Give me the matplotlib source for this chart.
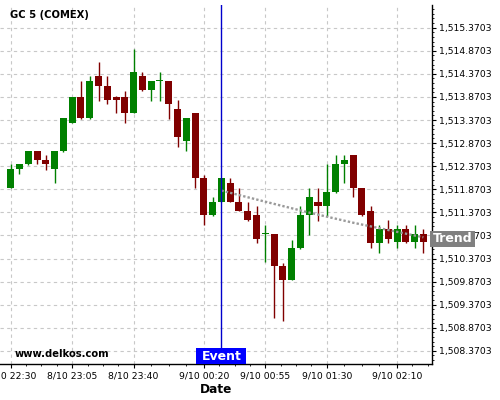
import matplotlib
matplotlib.use("Agg")
import matplotlib.pyplot as plt
import matplotlib.transforms as mtransforms
from matplotlib.patches import Rectangle
from matplotlib.ticker import FixedLocator, MultipleLocator, FuncFormatter
import numpy as np

# ---- data ----
opens = [1511.905, 1512.316, 1512.425, 1512.700, 1512.505, 1512.316, 1512.707, 1513.313,
         1513.879, 1513.415, 1514.320, 1514.100, 1513.879, 1513.879, 1513.531, 1514.320,
         1514.020, 1514.220, 1514.218, 1513.611, 1512.923, 1513.531, 1512.122, 1511.320,
         1511.595, 1512.000, 1511.595, 1511.400, 1511.314, 1510.910, 1510.900, 1510.210,
         1509.907, 1510.590, 1511.314, 1511.595, 1511.509, 1511.818, 1512.418, 1512.613,
         1511.900, 1511.400, 1510.715, 1511.010, 1510.725, 1511.010, 1510.725, 1510.900]
highs = [1512.412, 1512.420, 1512.700, 1512.700, 1512.607, 1512.700, 1513.415, 1513.879,
         1514.211, 1514.320, 1514.628, 1514.320, 1513.880, 1514.000, 1514.905, 1514.410,
         1514.220, 1514.410, 1514.220, 1513.800, 1513.415, 1513.531, 1512.190, 1511.697,
         1512.120, 1512.115, 1511.892, 1511.595, 1511.509, 1511.087, 1510.900, 1510.280,
         1510.780, 1511.510, 1511.892, 1511.892, 1512.412, 1512.613, 1512.613, 1512.613,
         1511.900, 1511.500, 1511.087, 1511.210, 1511.087, 1511.090, 1511.090, 1511.010]
lows = [1511.890, 1512.195, 1512.397, 1512.412, 1512.295, 1512.000, 1512.678, 1513.313,
        1513.393, 1513.400, 1513.790, 1513.710, 1513.517, 1513.300, 1513.530, 1514.000,
        1513.790, 1513.790, 1513.400, 1512.793, 1512.693, 1511.892, 1511.097, 1511.300,
        1511.590, 1511.590, 1511.400, 1511.190, 1510.700, 1510.285, 1509.090, 1509.010,
        1509.900, 1510.580, 1510.890, 1511.190, 1511.300, 1511.800, 1512.000, 1511.697,
        1511.290, 1510.590, 1510.480, 1510.700, 1510.590, 1510.700, 1510.590, 1510.490]
closes = [1512.310, 1512.418, 1512.700, 1512.511, 1512.425, 1512.700, 1513.415, 1513.879,
          1513.415, 1514.218, 1514.100, 1513.803, 1513.803, 1513.531, 1514.412, 1514.020,
          1514.218, 1514.235, 1513.726, 1513.004, 1513.415, 1512.122, 1511.320, 1511.595,
          1512.115, 1511.595, 1511.400, 1511.211, 1510.801, 1510.925, 1510.210, 1509.907,
          1510.590, 1511.314, 1511.704, 1511.509, 1511.812, 1512.418, 1512.505, 1511.900,
          1511.314, 1510.715, 1511.010, 1510.800, 1511.010, 1510.725, 1510.900, 1510.725]

tick_pos = [0, 7, 14, 22, 29, 36, 44]
tick_labels = ["8/10 22:30", "8/10 23:05", "8/10 23:40", "9/10 00:20",
               "9/10 00:55", "9/10 01:30", "9/10 02:10"]

event_index = 24
trend_idx = [24, 29, 34, 39, 47]
trend_val = [1511.842, 1511.601, 1511.365, 1511.146, 1510.830]

title = "GC 5 (COMEX)"
watermark = "www.delkos.com"

# ---- figure ----
fig = plt.figure(figsize=(5, 4), dpi=100)
ax = fig.add_axes([0.0, 0.0893, 0.8634, 0.899])

GREEN = "#008000"
RED = "#800000"

x = np.arange(len(opens))
o = np.array(opens); c = np.array(closes)
h = np.array(highs); l = np.array(lows)
up = c >= o
cols = [GREEN if u else RED for u in up]
bottoms = np.minimum(o, c)
heights = np.maximum(np.abs(c - o), 0.022)

ax.vlines(x, l, h, colors=cols, linewidth=1.0, zorder=3)
ax.bar(x, heights, bottom=bottoms, width=0.8, color=cols, linewidth=0, zorder=4)

# trend
ax.plot(trend_idx, trend_val, color="#9a9a9a", linewidth=1.7,
        linestyle=(0, (1, 0.9)), zorder=5)

# event line
ax.axvline(event_index, color="#0000cc", linewidth=1.0, zorder=6)

ax.set_xlim(-1.22, 47.95)
ax.set_ylim(1508.08, 1515.868)

# axes styling
for s in ["top", "left"]:
    ax.spines[s].set_visible(False)
ax.spines["right"].set_linewidth(1.0)
ax.spines["bottom"].set_linewidth(1.0)

ax.yaxis.tick_right()
yt = [1508.3703 + 0.5 * k for k in range(16)]
ax.yaxis.set_major_locator(FixedLocator(yt))
ax.yaxis.set_minor_locator(FixedLocator([1508.0703 + 0.1 * k for k in range(80)]))
ax.yaxis.set_major_formatter(FuncFormatter(lambda v, p: f"{v:,.4f}"))

ax.set_xticks(tick_pos)
ax.set_xticklabels(tick_labels)
minors = []
for a, b in zip(tick_pos[:-1], tick_pos[1:]):
    for k in (1, 2, 3):
        minors.append(a + (b - a) * k / 4)
minors += [44 + 7 * k / 4 for k in (1, 2, 3)]
ax.xaxis.set_minor_locator(FixedLocator(minors))

ax.tick_params(axis="both", which="major", labelsize=6.7, length=3, width=0.8,
               direction="out", pad=2)
ax.tick_params(axis="both", which="minor", length=1.6, width=0.6, direction="out")
ax.tick_params(axis="y", which="major", pad=2)

ax.grid(True, which="major", color="#c8c8c8", linestyle=(0, (3, 3)), linewidth=0.8)
ax.set_axisbelow(True)

ax.set_xlabel("Date", fontsize=8.7, fontweight="bold", labelpad=2)

# texts
ax.text(0.023, 0.9616, title, transform=ax.transAxes, fontsize=7.2,
        fontweight="bold", va="baseline", ha="left", zorder=7)
ax.text(0.0347, 0.0195, watermark, transform=ax.transAxes, fontsize=7.2,
        fontweight="bold", va="baseline", ha="left", zorder=7)

# Event box
trans = mtransforms.blended_transform_factory(ax.transData, ax.transAxes)
half_w = 25 / 8.78
ax.add_patch(Rectangle((event_index - half_w, 0.0), 2 * half_w, 16 / 359.6,
                       transform=trans, facecolor="#0000ff", edgecolor="none",
                       zorder=8, clip_on=False))
ax.text(event_index, 8 / 359.6, "Event", transform=trans, color="white",
        fontsize=9, fontweight="bold", ha="center", va="center", zorder=9)

# Trend box (figure coords)
fig.add_artist(Rectangle((430 / 500, 1 - 246.7 / 400), 45 / 500, 15.7 / 400,
                         transform=fig.transFigure, facecolor="#808080",
                         edgecolor="none", zorder=10))
fig.text(452.5 / 500, 1 - 238.8 / 400, "Trend", color="white", fontsize=9,
         fontweight="bold", ha="center", va="center", zorder=11)

fig.savefig("out.png", dpi=100)
